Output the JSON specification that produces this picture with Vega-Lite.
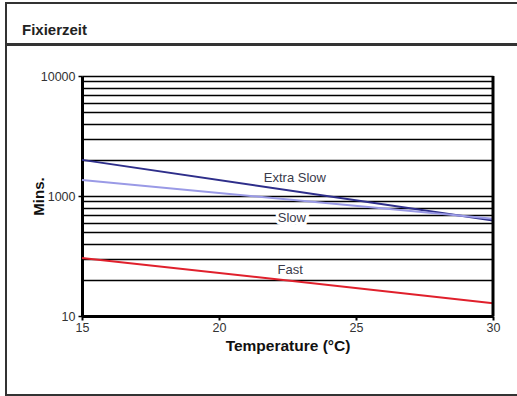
{
  "$schema": "https://vega.github.io/schema/vega-lite/v6.json",
  "padding": {"left": 5, "top": 2, "right": 0, "bottom": 0},
  "background": "white",
  "spacing": -2,
  "config": {
    "font": "Liberation Sans",
    "view": {"stroke": "#333333", "strokeWidth": 2}
  },
  "datasets": {
    "series": [
      {"series": "Extra Slow", "temp": 15, "mins": 2000},
      {"series": "Extra Slow", "temp": 30, "mins": 625},
      {"series": "Slow", "temp": 15, "mins": 1360},
      {"series": "Slow", "temp": 30, "mins": 645},
      {"series": "Fast", "temp": 15, "mins": 305},
      {"series": "Fast", "temp": 30, "mins": 128}
    ],
    "labels": [
      {"label": "Extra Slow", "temp": 22.77, "mins": 1400},
      {"label": "Slow", "temp": 22.66, "mins": 656},
      {"label": "Fast", "temp": 22.6, "mins": 242}
    ]
  },
  "vconcat": [
    {
      "width": 512,
      "height": 41,
      "view": {"stroke": "#333333", "strokeWidth": 2},
      "data": {"values": [{"t": ""}]},
      "mark": {"type": "text", "opacity": 0},
      "encoding": {"text": {"field": "t"}},
      "title": {
        "text": "Fixierzeit",
        "anchor": "start",
        "frame": "group",
        "offset": -35,
        "dx": 16,
        "fontSize": 15,
        "fontWeight": "bold",
        "color": "#222222",
        "font": "Liberation Sans"
      }
    },
    {
      "width": 512,
      "height": 350,
      "layer": [
        {
          "data": {"name": "series"},
          "mark": {"type": "line", "strokeWidth": 2},
          "encoding": {
            "x": {
              "field": "temp",
              "type": "quantitative",
              "scale": {"domain": [15, 30], "range": [76, 487], "nice": false, "zero": false},
              "axis": {
                "values": [15, 20, 25, 30],
                "offset": -79,
                "grid": false,
                "domainColor": "black",
                "domainWidth": 3,
                "tickColor": "black",
                "tickWidth": 2,
                "tickSize": 4,
                "labelFlush": false,
                "labelFontSize": 12.5,
                "labelColor": "#333333",
                "labelPadding": 1,
                "title": "Temperature (°C)",
                "titleFontSize": 15.5,
                "titleFontWeight": "bold",
                "titleColor": "#111111",
                "titlePadding": 5
              }
            },
            "y": {
              "field": "mins",
              "type": "quantitative",
              "scale": {"type": "log", "domain": [100, 10000], "range": [271, 31], "nice": false},
              "axis": {
                "values": [100, 200, 300, 400, 500, 600, 700, 800, 900, 1000, 2000, 3000, 4000, 5000, 6000, 7000, 8000, 9000, 10000],
                "offset": -76,
                "grid": true,
                "gridColor": "black",
                "gridWidth": 1.5,
                "gridOpacity": 1,
                "domainColor": "black",
                "domainWidth": 3,
                "tickColor": "black",
                "tickWidth": 1.5,
                "tickSize": 4,
                "tickOpacity": {"condition": {"test": "datum.value === 100 || datum.value === 1000 || datum.value === 10000", "value": 1}, "value": 0},
                "labelExpr": "datum.value === 10000 ? '10000' : datum.value === 1000 ? '1000' : datum.value === 100 ? '10' : ''",
                "labelOverlap": false,
                "labelFontSize": 12.5,
                "labelColor": "#333333",
                "labelPadding": 3,
                "title": "Mins.",
                "titleFontSize": 15,
                "titleFontWeight": "bold",
                "titleColor": "#111111",
                "titleBaseline": "middle",
                "titleX": -44,
                "titleY": 151
              }
            },
            "color": {
              "field": "series",
              "type": "nominal",
              "scale": {"domain": ["Extra Slow", "Slow", "Fast"], "range": ["#2e2e8a", "#9a9ae6", "#e0202c"]},
              "legend": null
            }
          }
        },
        {
          "data": {"values": [{}]},
          "mark": {"type": "rule", "color": "black", "strokeWidth": 3},
          "encoding": {
            "x": {"datum": 30, "type": "quantitative"},
            "y": {"datum": 100, "type": "quantitative"},
            "y2": {"datum": 10000}
          }
        },
        {
          "data": {"name": "labels"},
          "transform": [{"filter": "datum.label === 'Slow'"}],
          "mark": {"type": "text", "fontSize": 13, "fill": "white", "stroke": "white", "strokeWidth": 6},
          "encoding": {
            "x": {"field": "temp", "type": "quantitative"},
            "y": {"field": "mins", "type": "quantitative"},
            "text": {"field": "label"}
          }
        },
        {
          "data": {"name": "labels"},
          "mark": {"type": "text", "fontSize": 13, "color": "#3a3a4a"},
          "encoding": {
            "x": {"field": "temp", "type": "quantitative"},
            "y": {"field": "mins", "type": "quantitative"},
            "text": {"field": "label"}
          }
        }
      ]
    }
  ]
}
